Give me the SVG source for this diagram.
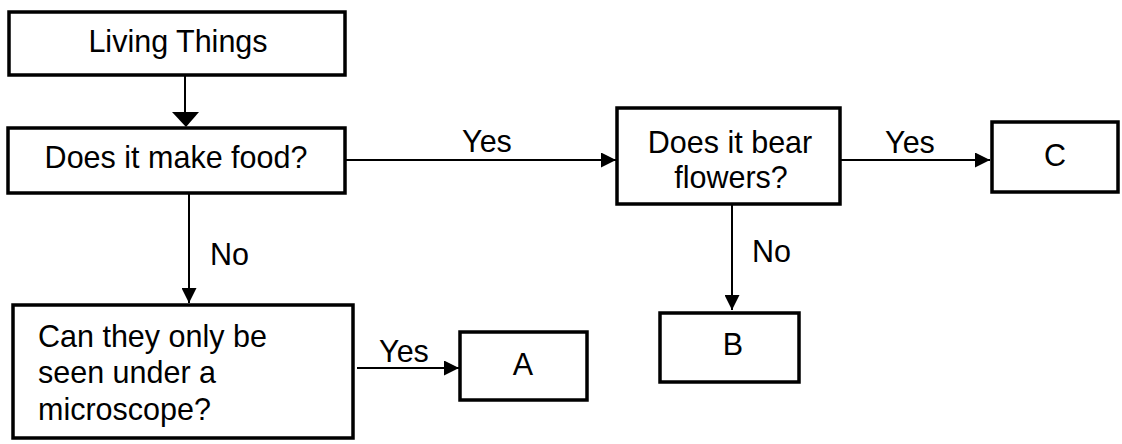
<svg xmlns="http://www.w3.org/2000/svg" width="1122" height="444" viewBox="0 0 1122 444">
<style>
.box{fill:#fff;stroke:#000;stroke-width:3.5}
.ln{fill:none;stroke:#000;stroke-width:2}
text{font-family:"Liberation Sans",Arial,sans-serif;font-size:30.5px;fill:#000}
.c{text-anchor:middle}
</style>
<defs>
<marker id="ah2" viewBox="0 0 10 10" refX="10" refY="5" markerWidth="7.5" markerHeight="7.5" markerUnits="strokeWidth" orient="auto">
<path d="M0,0 L10,5 L0,10 Z" fill="#000"/>
</marker>
</defs>
<g id="connectors">
<line class="ln" x1="185" y1="75" x2="185" y2="112"/>
<path d="M172,112 L199,112 L186,127 Z" fill="#000"/>
<line class="ln" x1="345" y1="160" x2="616" y2="160" marker-end="url(#ah2)"/>
<line class="ln" x1="189" y1="193" x2="189" y2="303" marker-end="url(#ah2)"/>
<line class="ln" x1="840" y1="160" x2="990" y2="160" marker-end="url(#ah2)"/>
<line class="ln" x1="732" y1="205" x2="732" y2="310" marker-end="url(#ah2)"/>
<line class="ln" x1="357" y1="368" x2="459" y2="368" marker-end="url(#ah2)"/>
<text x="487" y="152" class="c">Yes</text>
<text x="910" y="153" class="c">Yes</text>
<text x="404" y="362" class="c">Yes</text>
<text x="210" y="265">No</text>
<text x="752" y="262">No</text>
</g>
<g id="living">
<rect class="box" x="9" y="12" width="336" height="63"/>
<text x="178" y="52" class="c">Living Things</text>
</g>
<g id="food">
<rect class="box" x="8" y="128" width="337" height="65"/>
<text x="176" y="168" class="c">Does it make food?</text>
</g>
<g id="flowers">
<rect class="box" x="617" y="108" width="223" height="96"/>
<text x="730" y="153" class="c">Does it bear</text>
<text x="731" y="188" class="c">flowers?</text>
</g>
<g id="microscope">
<rect class="box" x="13" y="305" width="340" height="133"/>
<text x="38" y="347">Can they only be</text>
<text x="38" y="383">seen under a</text>
<text x="38" y="420">microscope?</text>
</g>
<g id="A">
<rect class="box" x="460" y="332" width="127" height="68"/>
<text x="523" y="375" class="c">A</text>
</g>
<g id="B">
<rect class="box" x="660" y="313" width="139" height="69"/>
<text x="733" y="355" class="c">B</text>
</g>
<g id="C">
<rect class="box" x="992" y="122" width="126" height="70"/>
<text x="1055" y="166" class="c">C</text>
</g>
</svg>
